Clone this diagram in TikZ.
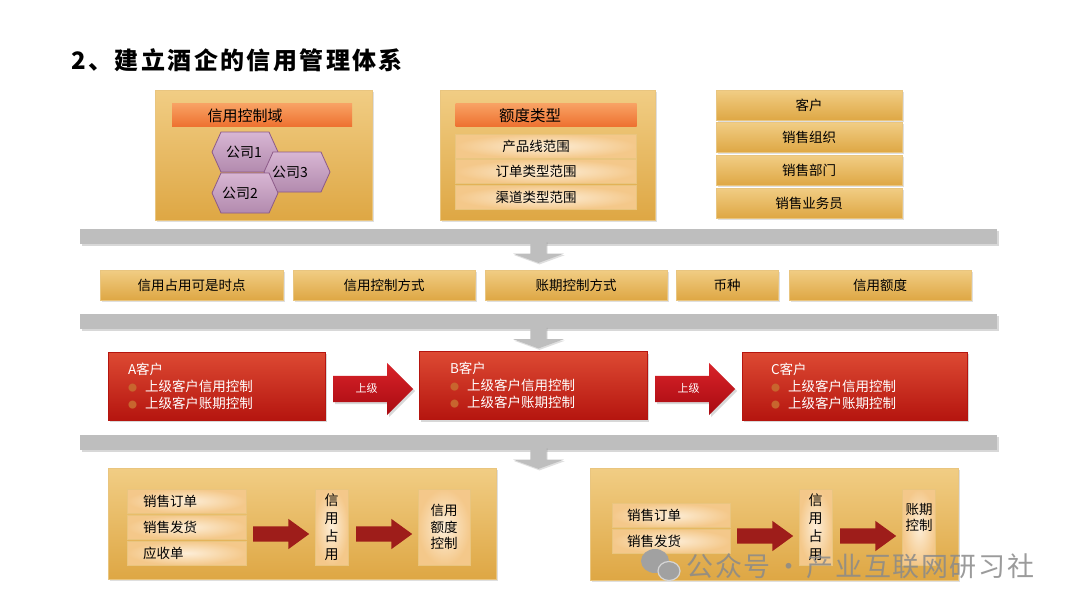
\documentclass[tikz,border=0pt]{standalone}
\usepackage{fontspec}
\setmainfont{Noto Sans CJK SC}
\usetikzlibrary{shapes.arrows,shadows}

\definecolor{goldtop}{HTML}{F1CD84}
\definecolor{goldbot}{HTML}{DEA744}
\definecolor{goldline}{HTML}{E9C57F}
\definecolor{orangetop}{HTML}{F8A365}
\definecolor{orangebot}{HTML}{EE7231}
\definecolor{peachin}{HTML}{FDEED8}
\definecolor{peachout}{HTML}{F4C88A}
\definecolor{hextop}{HTML}{D8B6D3}
\definecolor{hexbot}{HTML}{B28AAE}
\definecolor{hexline}{HTML}{8C5A88}
\definecolor{redtop}{HTML}{DD4A33}
\definecolor{redbot}{HTML}{B5150F}
\definecolor{arrowtop}{HTML}{D9232A}
\definecolor{arrowbot}{HTML}{A80A10}
\definecolor{darkred}{HTML}{9E1D1A}
\definecolor{barfill}{HTML}{BEBEBE}
\definecolor{bulletc}{HTML}{C8652E}
\definecolor{wmgray}{HTML}{8A8A8A}

\newcommand{\fsz}[2]{\fontsize{#1}{#2}\selectfont}
\newcommand{\rbul}{\makebox[17pt][l]{\color{bulletc}\fsz{9}{9}●}}

\tikzset{
  goldbox/.style={draw=goldline, line width=0.6pt, top color=goldtop, bottom color=goldbot,
    inner sep=0pt, drop shadow={opacity=0.25, shadow xshift=1.5pt, shadow yshift=-1.5pt}},
  headbar/.style={top color=orangetop, bottom color=orangebot, inner sep=0pt},
  peachrow/.style={draw=goldline, line width=0.5pt, inner color=peachin, outer color=peachout, inner sep=0pt},
  vbox/.style={peachrow, align=center, font=\fsz{14}{18}},
  hexcell/.style={draw=hexline, line width=0.8pt, top color=hextop, bottom color=hexbot},
  graybar/.style={fill=barfill, minimum width=917pt, minimum height=15pt, inner sep=0pt,
    drop shadow={opacity=0.3, shadow xshift=2pt, shadow yshift=-2pt}},
  downarrow/.style={single arrow, fill=barfill, rotate=-90, inner xsep=0pt, inner ysep=8pt,
    single arrow head extend=17pt, single arrow tip angle=140, minimum height=22pt,
    drop shadow={opacity=0.25, shadow xshift=1pt, shadow yshift=-1.5pt}},
  redbox/.style={draw=redbot, top color=redtop, bottom color=redbot, text=white, align=left,
    minimum height=68pt, inner ysep=0pt, drop shadow={opacity=0.3, shadow xshift=2pt, shadow yshift=-2pt}},
  levelarrow/.style={single arrow, top color=arrowtop, bottom color=arrowbot, text=white, font=\fsz{11}{11},
    text height=8pt, text depth=2pt, inner xsep=2pt, inner ysep=8pt, single arrow head extend=13pt,
    minimum height=80pt, drop shadow={opacity=0.3, shadow xshift=2pt, shadow yshift=-2pt}},
  blockarrow/.style={single arrow, fill=darkred, inner xsep=0pt, inner ysep=7.5pt,
    single arrow head extend=7.5pt, single arrow tip angle=72, minimum height=56pt}
}

% hexagon cell: name, centre, text shift, text
\newcommand{\comphex}[4]{%
  \path[hexcell] (#2) ++(-33,0) -- ++(9,-20) -- ++(48,0) -- ++(9,20) -- ++(-9,20) -- ++(-48,0) -- cycle;
  \node[font=\fsz{14}{14}, xshift=#3pt] (#1) at (#2) {#4};}

\begin{document}
\begin{tikzpicture}[x=1pt, y=-1pt, font=\fsz{13.5}{17}]
\useasboundingbox[fill=white] (0,0) rectangle (1080,608);

\node[anchor=west, font=\fsz{24}{24}\bfseries\addfontfeature{LetterSpace=10}] (title) at (68,60) {2、建立酒企的信用管理体系};

% top blocks
\node[goldbox, minimum width=217pt, minimum height=130pt] (domain) at (263.5,155) {};
\node[headbar, minimum width=180pt, minimum height=23pt] (domhead) at (262,114.5) {};
\node[font=\fsz{15}{15}] (domtext) at (245,116) {信用控制域};
\comphex{c1}{245,152}{-1}{公司1}
\comphex{c3}{297,172}{-7}{公司3}
\comphex{c2}{245,193}{-5}{公司2}

\node[goldbox, minimum width=215pt, minimum height=130pt] (quota) at (547.5,155) {};
\node[headbar, minimum width=181pt, minimum height=23pt] (quohead) at (546,114.5) {};
\node[font=\fsz{15.5}{15.5}] (quotext) at (530,116) {额度类型};
\foreach \y/\t [count=\i] in {146/产品线范围, 171.5/订单类型范围, 197.5/渠道类型范围}
  \node[peachrow, minimum width=181pt, minimum height=24pt] (q\i) at (546,\y) {\hspace*{-20pt}\t};

\foreach \y/\t [count=\i] in {105.5/客户, 137.5/销售组织, 170.5/销售部门, 203/销售业务员}
  \node[goldbox, minimum width=186pt, minimum height=30pt] (org\i) at (809,\y) {\t};

\node[graybar] (bar1) at (538.5,236) {};
\node[downarrow, anchor=tail] (d1) at ([yshift=3pt]bar1.south) {};

% control items
\foreach \x/\w/\t [count=\i] in {191.5/183/信用占用可是时点, 384/182/信用控制方式, 576/182/账期控制方式, 727/102/币种, 880/182/信用额度}
  \node[goldbox, minimum width=\w pt, minimum height=30pt] (f\i) at (\x,285) {\t};

\node[graybar] (bar2) at (538.5,321.5) {};
\node[downarrow, anchor=tail] (d2) at ([yshift=3pt]bar2.south) {};

% customer hierarchy
\node[redbox, text width=177pt, inner xsep=20pt] (ca) at (216.5,386) {A客户\\ \rbul 上级客户信用控制\\ \rbul 上级客户账期控制};
\node[redbox, text width=166pt, inner xsep=31pt] (cb) at (533,385.5) {B客户\\ \rbul 上级客户信用控制\\ \rbul 上级客户账期控制};
\node[redbox, text width=167pt, inner xsep=29pt] (cc) at (854.5,386) {C客户\\ \rbul 上级客户信用控制\\ \rbul 上级客户账期控制};
\node[levelarrow, anchor=tail] (ab) at (333,389) {上级};
\node[levelarrow, anchor=tail] (bc) at (655,389) {上级};

\node[graybar] (bar3) at (538.5,442) {};
\node[downarrow, anchor=tail] (d3) at ([yshift=3pt]bar3.south) {};

% occupation: left
\node[goldbox, minimum width=388pt, minimum height=111pt] (occl) at (302,523.5) {};
\foreach \y/\t [count=\i] in {501/销售订单, 527/销售发货, 553/应收单}
  \node[peachrow, minimum height=24pt, text width=87pt, inner xsep=16pt, align=left] (sl\i) at (186.5,\y) {\t};
\node[blockarrow, anchor=tail] (al1) at (253,534) {};
\node[vbox, minimum width=33pt, minimum height=76pt] (occ1) at (331.5,527) {信\\用\\占\\用};
\node[blockarrow, anchor=tail] (al2) at (356,534) {};
\node[vbox, minimum width=52pt, minimum height=76pt, font=\fsz{13.5}{16.5}] (lim) at (444,527) {信用\\额度\\控制};

% occupation: right
\node[goldbox, minimum width=368pt, minimum height=112pt] (occr) at (774,524) {};
\foreach \y/\t [count=\i] in {515.5/销售订单, 541/销售发货}
  \node[peachrow, minimum height=24pt, text width=88pt, inner xsep=15pt, align=left] (sr\i) at (671,\y) {\t};
\node[blockarrow, anchor=tail] (ar1) at (737,536) {};
\node[vbox, minimum width=33pt, minimum height=76pt] (occ2) at (815.5,527) {信\\用\\占\\用};
\node[blockarrow, anchor=tail] (ar2) at (840,536) {};
\node[vbox, minimum width=33pt, minimum height=76pt] (term) at (919,527) {};
\node[font=\fsz{13.5}{16}, align=left] (termtext) at (919,517) {账期\\控制};

% watermark
\fill[wmgray!80!white] (655,561) ellipse (14pt and 12pt);
\draw[wmgray!35!white, line width=1.2pt, fill=wmgray!80!white] (669,571) ellipse (11pt and 9.5pt);
\node[anchor=west, text=wmgray, opacity=0.85, font=\fsz{27}{27}\addfontfeature{LetterSpace=6}] (mark) at (683,566) {公众号\,·\,产业互联网研习社};
\end{tikzpicture}
\end{document}
